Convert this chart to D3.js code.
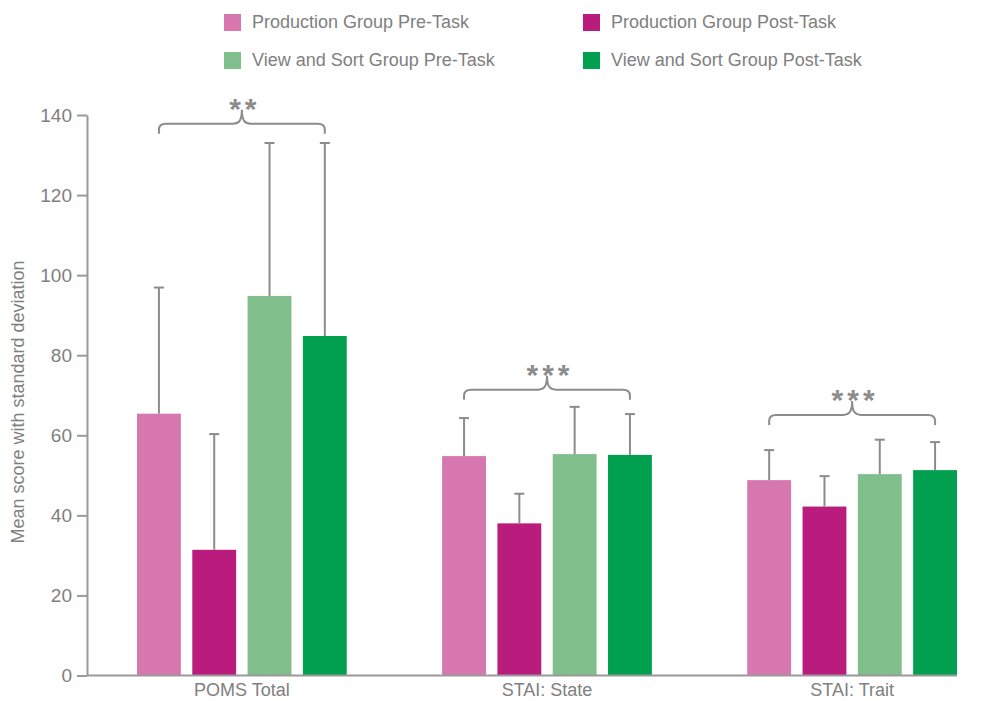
<!DOCTYPE html>
<html>
<head>
<meta charset="utf-8">
<script src="https://cdn.jsdelivr.net/npm/d3@7"></script>
<style>
  html, body { margin: 0; padding: 0; background: #fff; }
  svg { display: block; font-family: "Liberation Sans", Arial, sans-serif; }
</style>
</head>
<body>
<svg id="chart" width="990" height="701"></svg>
<script>
// Measures and groups
const categories = ["POMS Total", "STAI: State", "STAI: Trait"];
const seriesNames = [
  "Production Group Pre-Task",
  "Production Group Post-Task",
  "View and Sort Group Pre-Task",
  "View and Sort Group Post-Task"
];
const seriesColors = ["#d677b0", "#b91c7c", "#80bf8b", "#00a04f"];

// Mean scores per series (one value per category)
const prodPreMean  = [65.4, 54.8, 48.8];
const prodPostMean = [31.4, 38.0, 42.2];
const vsPreMean    = [94.8, 55.3, 50.3];
const vsPostMean   = [84.8, 55.1, 51.3];

// Standard deviations per series
const prodPreSD  = [31.5, 9.5, 7.5];
const prodPostSD = [28.9, 7.4, 7.6];
const vsPreSD    = [38.2, 11.8, 8.6];
const vsPostSD   = [48.2, 10.2, 7.0];

// Significance markers and the score level where each bracket sits
const significance = ["**", "***", "***"];
const bracketLevel = [135.3, 68.9, 62.6];

const yTicks = [0, 20, 40, 60, 80, 100, 120, 140];

const means = [prodPreMean, prodPostMean, vsPreMean, vsPostMean];
const sds = [prodPreSD, prodPostSD, vsPreSD, vsPostSD];

const textColor = "#808080";
const axisColor = "#9a9a9a";
const errColor = "#8c8c8c";

const svg = d3.select("#chart");

const y = d3.scaleLinear().domain([0, 140]).range([675.5, 115]);
const x0 = d3.scaleBand().domain(categories).range([137, 957]).paddingInner(0.3126).paddingOuter(0);
const x1 = d3.scaleBand().domain(seriesNames).range([0, x0.bandwidth()]).paddingInner(0.207).paddingOuter(0);

// Y axis
const yAxis = svg.append("g")
  .attr("transform", "translate(87,0)")
  .call(d3.axisLeft(y).tickValues(yTicks).tickSize(10).tickSizeOuter(0).tickPadding(5));
yAxis.select(".domain").attr("stroke", axisColor).attr("stroke-width", 2);
yAxis.selectAll(".tick line").attr("stroke", axisColor).attr("stroke-width", 2);
yAxis.selectAll(".tick text")
  .attr("fill", textColor)
  .style("font-size", "19px")
  .style("font-family", "'Liberation Sans', Arial, sans-serif");

// Y axis title
svg.append("text")
  .attr("transform", "translate(24,402) rotate(-90)")
  .attr("text-anchor", "middle")
  .attr("fill", textColor)
  .style("font-size", "18px")
  .text("Mean score with standard deviation");

// Bars
const groups = svg.append("g").selectAll("g")
  .data(categories)
  .join("g")
  .attr("transform", d => `translate(${x0(d)},0)`);

const cells = groups.selectAll("g.cell")
  .data((c, ci) => seriesNames.map((s, si) => ({
    series: s, si, mean: means[si][ci], sd: sds[si][ci]
  })))
  .join("g")
  .attr("class", "cell");

cells.append("rect")
  .attr("x", d => x1(d.series))
  .attr("width", x1.bandwidth())
  .attr("y", d => y(d.mean))
  .attr("height", d => y(0) - y(d.mean))
  .attr("fill", d => seriesColors[d.si]);

// Error bars (upper SD)
cells.append("line")
  .attr("x1", d => x1(d.series) + x1.bandwidth() / 2)
  .attr("x2", d => x1(d.series) + x1.bandwidth() / 2)
  .attr("y1", d => y(d.mean))
  .attr("y2", d => y(d.mean + d.sd))
  .attr("stroke", errColor)
  .attr("stroke-width", 2);
cells.append("line")
  .attr("x1", d => x1(d.series) + x1.bandwidth() / 2 - 5)
  .attr("x2", d => x1(d.series) + x1.bandwidth() / 2 + 5)
  .attr("y1", d => y(d.mean + d.sd))
  .attr("y2", d => y(d.mean + d.sd))
  .attr("stroke", errColor)
  .attr("stroke-width", 2);

// X axis baseline and labels
svg.append("line")
  .attr("x1", 87).attr("x2", 957)
  .attr("y1", y(0)).attr("y2", y(0))
  .attr("stroke", axisColor).attr("stroke-width", 2);

svg.append("g").selectAll("text")
  .data(categories)
  .join("text")
  .attr("x", d => x0(d) + x0.bandwidth() / 2)
  .attr("y", 696)
  .attr("text-anchor", "middle")
  .attr("fill", textColor)
  .style("font-size", "18px")
  .text(d => d);

// Significance brackets
function bracePath(xl, xr, yb) {
  const xm = (xl + xr) / 2;
  const yh = yb - 10;
  const yt = yb - 24;
  return [
    `M${xl},${yb}`,
    `L${xl},${yh + 6}`,
    `Q${xl},${yh} ${xl + 7},${yh}`,
    `L${xm - 9},${yh}`,
    `C${xm - 3},${yh} ${xm},${yh - 3} ${xm},${yt}`,
    `C${xm},${yh - 3} ${xm + 3},${yh} ${xm + 9},${yh}`,
    `L${xr - 7},${yh}`,
    `Q${xr},${yh} ${xr},${yh + 6}`,
    `L${xr},${yb}`
  ].join(" ");
}

const firstS = seriesNames[0], lastS = seriesNames[seriesNames.length - 1];
const brackets = svg.append("g").selectAll("g")
  .data(categories)
  .join("g");

brackets.append("path")
  .attr("d", (c, i) => bracePath(
    x0(c) + x1(firstS) + x1.bandwidth() / 2,
    x0(c) + x1(lastS) + x1.bandwidth() / 2,
    y(bracketLevel[i])))
  .attr("fill", "none")
  .attr("stroke", errColor)
  .attr("stroke-width", 2);

brackets.append("text")
  .attr("x", c => x0(c) + x0.bandwidth() / 2 + 3)
  .attr("y", (c, i) => y(bracketLevel[i]) - 34 + 19)
  .attr("text-anchor", "middle")
  .attr("fill", errColor)
  .style("font-size", "30px")
  .style("font-weight", "bold")
  .style("letter-spacing", "4px")
  .text((c, i) => significance[i]);

// Legend
const legendX = [224, 583];
const legendY = [22, 60];
const legend = svg.append("g").selectAll("g")
  .data(seriesNames)
  .join("g")
  .attr("transform", (d, i) => `translate(${legendX[i % 2]},${legendY[Math.floor(i / 2)]})`);
legend.append("rect")
  .attr("x", 0).attr("y", -8)
  .attr("width", 17).attr("height", 17)
  .attr("fill", (d, i) => seriesColors[i]);
legend.append("text")
  .attr("x", 28).attr("y", 0)
  .attr("dy", "0.35em")
  .attr("fill", textColor)
  .style("font-size", "18px")
  .text(d => d);
</script>
</body>
</html>
